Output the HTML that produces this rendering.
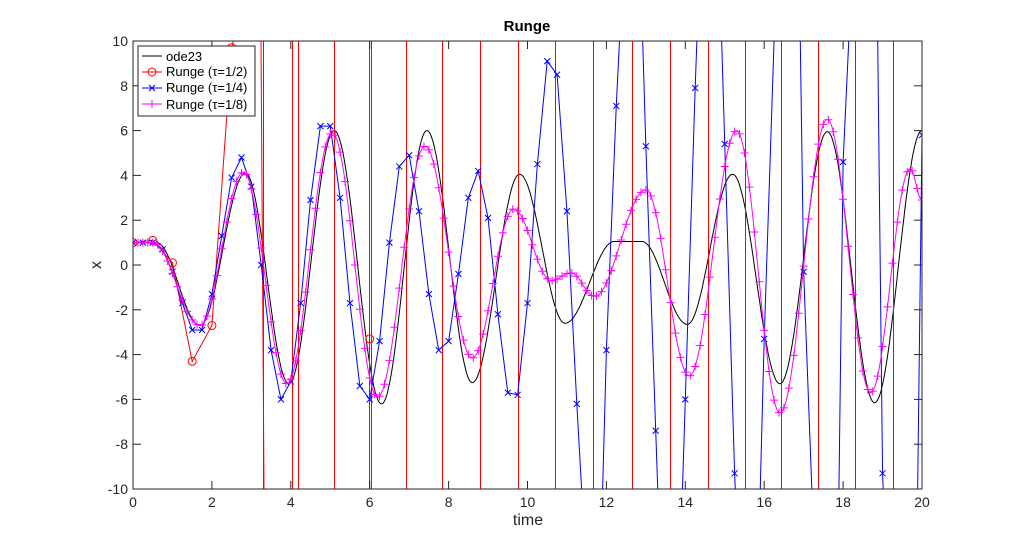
<!DOCTYPE html>
<html><head><meta charset="utf-8"><style>
html,body{margin:0;padding:0;background:#fff;width:1020px;height:551px;overflow:hidden;}
svg{display:block;font-family:"Liberation Sans",sans-serif;}
</style></head><body>
<svg id="s" width="1020" height="551" xmlns="http://www.w3.org/2000/svg">
<rect width="1020" height="551" fill="#fff"/>
<defs><clipPath id="c"><rect x="133" y="41" width="789" height="448"/></clipPath></defs>
<g id="data" clip-path="url(#c)"></g>
<rect x="133" y="41" width="789" height="448" fill="none" stroke="#262626" stroke-width="1"/>
<g id="ax" font-size="14" fill="#262626"></g>
<text x="527" y="31" text-anchor="middle" font-weight="bold" font-size="15" fill="#000">Runge</text>
<text x="528" y="525" text-anchor="middle" font-size="16" fill="#262626">time</text>
<text transform="translate(101,265) rotate(-90)" text-anchor="middle" font-size="16" fill="#262626">x</text>
<g font-size="13" fill="#000">
<rect x="138" y="46" width="117" height="70" fill="#fff" stroke="#262626"/>
<line x1="142" y1="56" x2="162" y2="56" stroke="#000"/>
<text x="166" y="61">ode23</text>
<line x1="142" y1="72" x2="162" y2="72" stroke="#f00"/><circle cx="152" cy="72" r="4" fill="none" stroke="#f00"/>
<text x="166" y="76">Runge  (τ=1/2)</text>
<line x1="142" y1="88" x2="162" y2="88" stroke="#00f"/><path d="M149,85l6,6M155,85l-6,6" stroke="#00f"/>
<text x="166" y="92">Runge  (τ=1/4)</text>
<line x1="142" y1="104" x2="162" y2="104" stroke="#f0f"/><path d="M148,104h8M152,100v8" stroke="#f0f"/>
<text x="166" y="109">Runge  (τ=1/8)</text>
</g>
</svg>
<script>
const X=t=>133+t*39.45, Y=v=>265-v*22.4;
const ns="http://www.w3.org/2000/svg";
const d=document.getElementById('data'), ax=document.getElementById('ax');
function el(p,tag,a){const e=document.createElementNS(ns,tag);for(const k in a)e.setAttribute(k,a[k]);p.appendChild(e);return e;}
for(let t=0;t<=20;t+=2){el(ax,'text',{x:X(t),y:507,'text-anchor':'middle'}).textContent=t;
 el(ax,'line',{x1:X(t),y1:489,x2:X(t),y2:481,stroke:'#262626'});el(ax,'line',{x1:X(t),y1:41,x2:X(t),y2:49,stroke:'#262626'});}
for(let v=-10;v<=10;v+=2){el(ax,'text',{x:128,y:Y(v)+5,'text-anchor':'end'}).textContent=v;
 el(ax,'line',{x1:133,y1:Y(v),x2:141,y2:Y(v),stroke:'#262626'});el(ax,'line',{x1:922,y1:Y(v),x2:914,y2:Y(v),stroke:'#262626'});}
function interp(pts,t){for(let i=0;i<pts.length-1;i++){const[a,va]=pts[i],[b,vb]=pts[i+1];if(t>=a&&t<=b){const u=(t-a)/(b-a);const w=(1-Math.cos(Math.PI*u))/2;return va+(vb-va)*w;}}return pts[pts.length-1][1];}
const blk=[[0,1],[0.6,1],[1.7,-2.7],[2.85,4.1],[3.95,-5.3],[5.1,6],[6.3,-6.2],[7.45,6],[8.6,-5.25],[9.8,4.05],[10.95,-2.6],[12.2,1.05],[12.9,1.05],[14.05,-2.65],[15.2,4.05],[16.4,-5.3],[17.6,5.95],[18.8,-6.15],[20,6]];
const mag=[[0,1],[0.5,1],[1.7,-2.7],[2.8,4.15],[3.9,-5.3],[5.05,5.9],[6.2,-5.9],[7.4,5.3],[8.6,-4.15],[9.65,2.5],[10.6,-0.7],[11.1,-0.35],[11.7,-1.4],[13,3.35],[14.1,-4.95],[15.3,6],[16.4,-6.6],[17.6,6.5],[18.7,-5.7],[19.7,4.3],[20,2.9]];
function curve(pts,col){let s='';for(let t=0;t<=20.001;t+=0.02)s+=(s?'L':'M')+X(t).toFixed(1)+','+Y(interp(pts,t)).toFixed(1);el(d,'path',{d:s,fill:'none',stroke:col,'stroke-width':1});}
curve(blk,'#000');
const redL=[263,292,298,334,369,371,406,442,480,518,555,593,632,670,708,745,781,818,855,893];
redL.forEach(x=>el(d,'line',{x1:x+0.5,y1:41,x2:x+0.5,y2:489,stroke:'#f00'}));
const red=[[0,1],[0.5,1.1],[1,0.1],[1.5,-4.3],[2,-2.7],[2.5,9.7]];
el(d,'polyline',{points:red.map(p=>X(p[0])+','+Y(p[1])).join(' ')+' 236,30',fill:'none',stroke:'#f00'});
red.concat([[6,-3.3]]).forEach(p=>el(d,'circle',{cx:X(p[0]),cy:Y(p[1]),r:4,fill:'none',stroke:'#f00'}));
el(d,'line',{x1:261,y1:41,x2:264,y2:489,stroke:'#f00'});
const bv=[1,1,1,0.7,-0.3,-1.7,-2.9,-2.9,-1.3,1.3,3.9,4.8,3.5,0,-3.8,-6,-5.2,-1.7,2.9,6.2,6.2,3,-1.7,-5.4,-6,-3.4,1,4.4,4.9,2.4,-1.3,-3.8,-3.4,-0.4,3,4.2,2.1,-2.2,-5.7,-5.8,-1.7,4.5,9.1,8.5,2.4,-6.2,-14,-20,-3.8,7.1,16,20,5.3,-7.4,-20,-20,-6,7.9,20,20,5.4,-9.3,-20,-20,-3.3,10,30,30,-0.3,-12,-30,-30,4.6,14,30,30,-9.3,-20,-30,-30,5.8];
let bs='';bv.forEach((v,i)=>{bs+=(i?'L':'M')+X(i*0.25)+','+Y(v);});
el(d,'path',{d:bs,fill:'none',stroke:'#00f'});
bv.forEach((v,i)=>{if(Math.abs(v)<10){const x=X(i*0.25),y=Y(v);el(d,'path',{d:`M${x-3},${y-3}l6,6M${x+3},${y-3}l-6,6`,stroke:'#00f'});}});
curve(mag,'#f0f');
for(let t=0;t<=20.001;t+=0.125){const x=X(t),y=Y(interp(mag,t));el(d,'path',{d:`M${x-4},${y}h8M${x},${y-4}v8`,stroke:'#f0f'});}
</script>
</body></html>
